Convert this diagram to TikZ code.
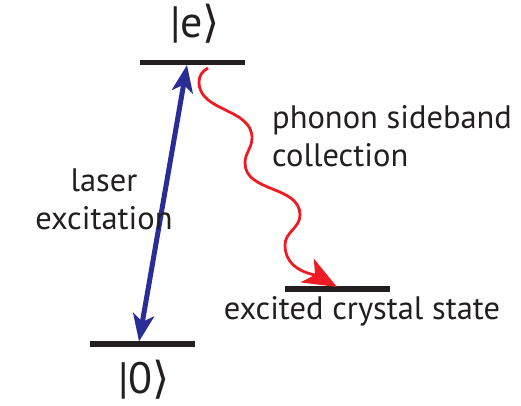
\documentclass[tikz,border=0pt]{standalone}
\usepackage{fontspec}
\setmainfont{PT Sans}
\newfontfamily\bracketfont{DejaVu Sans}
\usetikzlibrary{arrows.meta}
\definecolor{barblack}{RGB}{35,31,32}
\definecolor{laserblue}{RGB}{43,45,150}
\definecolor{phononred}{RGB}{237,28,36}

\begin{document}
\begin{tikzpicture}[x=1pt, y=1pt,
    level/.style={line width=5.5pt, draw=barblack},
    txt/.style={text=barblack, inner sep=0pt, font=\fontsize{32.5}{38}\selectfont},
    ket/.style={text=barblack, inner sep=0pt, font=\fontsize{44}{50}\selectfont},
    laser/.style={line width=5pt, draw=laserblue,
        {Stealth[length=27pt, width=21pt, inset=7pt]}-{Stealth[length=27pt, width=21pt, inset=7pt]}},
    phonon/.style={line width=2.8pt, draw=phononred,
        -{Stealth[length=34pt, width=27pt, inset=9pt]}}]
    \useasboundingbox (0,0) rectangle (521,406);

    % levels
    \coordinate (E1) at (140,343.5);
    \coordinate (E2) at (245,343.5);
    \coordinate (G1) at (90,62);
    \coordinate (G2) at (195,62);
    \coordinate (C1) at (285,117);
    \coordinate (C2) at (390,117);

    % arrow ends and wiggle points
    \coordinate (up) at (187,341);
    \coordinate (down) at (139,64.5);
    \coordinate (S) at (208,338);
    \coordinate (L1) at (199,324);
    \coordinate (R1) at (252,268);
    \coordinate (L2) at (245,243);
    \coordinate (R2) at (300,191);
    \coordinate (L3) at (285,161);
    \coordinate (T) at (337,119);

    \draw[level] (E1) to (E2);
    \draw[level] (G1) to (G2);
    \draw[level] (C1) to (C2);

    \draw[laser] (down) to (up);
    \draw[phonon] (S) to [out=210, in=90] (L1)
        to [out=-90, in=90] (R1)
        to [out=-90, in=90] (L2)
        to [out=-90, in=90] (R2)
        to [out=-90, in=90] (L3)
        to [out=-90, in=151] (T);

    \node[ket, anchor=base] (e) at (195,368) {|e{\bracketfont ⟩}};
    \node[ket, anchor=base] (g) at (144,12) {|0{\bracketfont ⟩}};
    \node[txt, anchor=base] (cs) at (362,86) {excited crystal state};
    \node[txt, anchor=base west, align=left] (pc) at (272,239) {phonon sideband\\collection};
    \node[txt, anchor=base, align=center] (le) at (104,176) {laser\\excitation};
\end{tikzpicture}
\end{document}
